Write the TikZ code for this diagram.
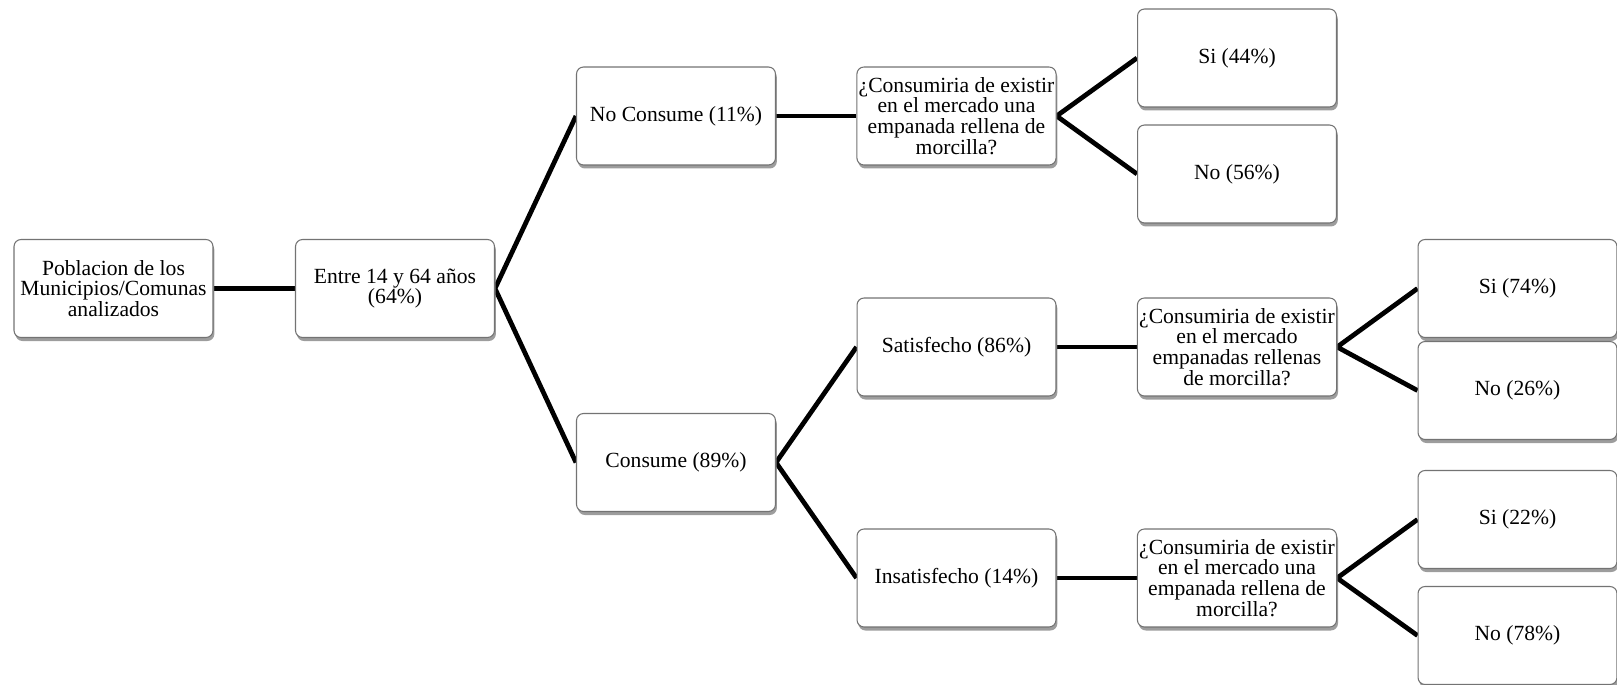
\documentclass[tikz,border=0pt]{standalone}
\usepackage{fontspec}
\setmainfont{Liberation Serif}
\usetikzlibrary{shadows,backgrounds}
\definecolor{BoxClr}{rgb}{0.45,0.45,0.45}
\definecolor{ShadowClr}{rgb}{0.45,0.45,0.45}

\begin{document}
\begin{tikzpicture}[x=0.02cm,y=-0.02cm,
  Box/.style={draw=BoxClr,line width=0.6pt,fill=white,rounded corners=4pt,
    minimum width=3.98cm,minimum height=1.96cm,align=center,inner sep=1pt,
    font=\fontsize{12.3}{11.8}\selectfont,
    drop shadow={shadow xshift=0.8pt,shadow yshift=-2pt,fill=ShadowClr,opacity=0.7}},
  Link/.style={line width=2.7pt,black}]
\useasboundingbox (0,0) rectangle (1617,685);

\node[Box] (pob) at (113.5,288.5) {Poblacion de los\\Municipios/Comunas\\analizados};
\node[Box] (entre) at (395,288.5) {Entre 14 y 64 años\\(64\%)};

\node[Box] (nocons) at (676,116) {No Consume (11\%)};
\node[Box] (cons) at (676,462.5) {Consume (89\%)};

\node[Box] (qno) at (956.5,116) {¿Consumiria de existir\\en el mercado una\\empanada rellena de\\morcilla?};
\node[Box] (sino) at (1237,58) {Si (44\%)};
\node[Box] (nono) at (1237,174) {No (56\%)};

\node[Box] (sat) at (956.5,347) {Satisfecho (86\%)};
\node[Box] (qsat) at (1237,347) {¿Consumiria de existir\\en el mercado\\empanadas rellenas\\de morcilla?};
\node[Box] (sisat) at (1517.5,288.5) {Si (74\%)};
\node[Box] (nosat) at (1517.5,390.5) {No (26\%)};

\node[Box] (ins) at (956.5,578) {Insatisfecho (14\%)};
\node[Box] (qins) at (1237,578) {¿Consumiria de existir\\en el mercado una\\empanada rellena de\\morcilla?};
\node[Box] (siins) at (1517.5,519.5) {Si (22\%)};
\node[Box] (noins) at (1517.5,635.5) {No (78\%)};

\begin{scope}[on background layer]
\draw[Link] (pob.east) -- (entre.west);
\draw[Link] (nocons.west) -- (entre.east) -- (cons.west);
\draw[Link] (nocons.east) -- (qno.west);
\draw[Link] (sino.west) -- (qno.east) -- (nono.west);
\draw[Link] (sat.west) -- (cons.east) -- (ins.west);
\draw[Link] (sat.east) -- (qsat.west);
\draw[Link] (sisat.west) -- (qsat.east) -- (nosat.west);
\draw[Link] (ins.east) -- (qins.west);
\draw[Link] (siins.west) -- (qins.east) -- (noins.west);
\end{scope}
\end{tikzpicture}
\end{document}
